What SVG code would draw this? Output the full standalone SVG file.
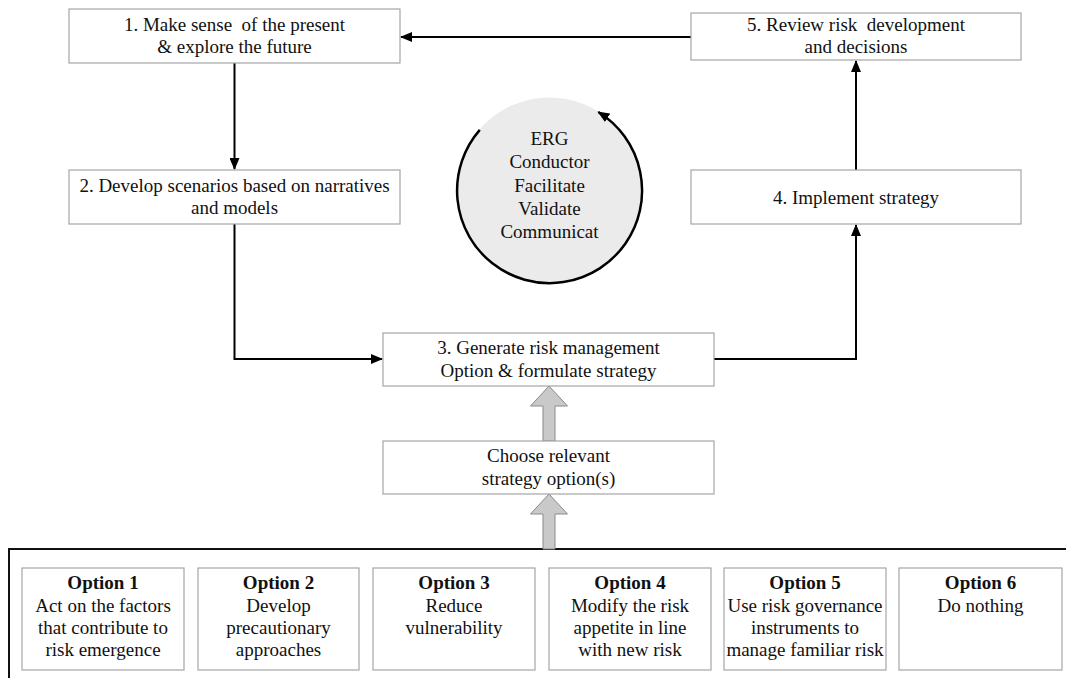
<svg xmlns="http://www.w3.org/2000/svg" width="1066" height="678" viewBox="0 0 1066 678">
<defs>
<style>
.box{fill:#fff;stroke:#a6a6a6;stroke-width:1.2}
.t{font-family:"Liberation Serif","Times New Roman",serif;font-size:19px;fill:#111;text-anchor:middle}
.b{font-weight:bold}
.con{fill:none;stroke:#000;stroke-width:2;marker-end:url(#ah)}
.blk{fill:#c9c9c9;stroke:#8a8a8a;stroke-width:1}
</style>
<marker id="ah" viewBox="0 0 12 10" refX="11" refY="5" markerWidth="12" markerHeight="10" markerUnits="userSpaceOnUse" orient="auto">
<path d="M0,0 L12,5 L0,10 Z" fill="#000"/>
</marker>
</defs>
<rect width="1066" height="678" fill="#fff"/>

<g id="container">
<rect x="9" y="549" width="1080" height="150" fill="none" stroke="#111" stroke-width="2"/>
</g>

<g id="connectors">
<path class="con" d="M691,37 H401"/>
<path class="con" d="M234.5,63 V169"/>
<path class="con" d="M234.5,224 V359 H382"/>
<path class="con" d="M714,359 H856 V225"/>
<path class="con" d="M856,170 V61"/>
<path class="blk" d="M549,386 L567.5,406 L555,406 L555,441 L543,441 L543,406 L530.5,406 Z"/>
<path class="blk" d="M549,494 L567.5,514 L555,514 L555,549 L543,549 L543,514 L530.5,514 Z"/>
</g>

<g id="n1">
<rect class="box" x="69" y="9" width="331" height="54"/>
<text class="t" x="234.5" y="31" xml:space="preserve">1. Make sense  of the present</text>
<text class="t" x="234.5" y="53">&amp; explore the future</text>
</g>
<g id="n5">
<rect class="box" x="691" y="13" width="330" height="47"/>
<text class="t" x="856" y="31" xml:space="preserve">5. Review risk  development</text>
<text class="t" x="856" y="53">and decisions</text>
</g>
<g id="n2">
<rect class="box" x="69" y="170" width="331" height="54"/>
<text class="t" x="234.5" y="192">2. Develop scenarios based on narratives</text>
<text class="t" x="234.5" y="214">and models</text>
</g>
<g id="n4">
<rect class="box" x="691" y="170" width="330" height="54"/>
<text class="t" x="856" y="204">4. Implement strategy</text>
</g>
<g id="erg">
<circle cx="549.5" cy="190" r="92.5" fill="#ebebeb"/>
<path d="M479.8,129.9 A92.5,92.5 0 1 0 598.3,112" fill="none" stroke="#000" stroke-width="2.5" marker-end="url(#ah)"/>
<text class="t" x="549.5" y="145">ERG</text>
<text class="t" x="549.5" y="168">Conductor</text>
<text class="t" x="549.5" y="192">Facilitate</text>
<text class="t" x="549.5" y="215">Validate</text>
<text class="t" x="549.5" y="238">Communicat</text>
</g>
<g id="n3">
<rect class="box" x="383" y="333" width="331" height="53"/>
<text class="t" x="548.5" y="354">3. Generate risk management</text>
<text class="t" x="548.5" y="377">Option &amp; formulate strategy</text>
</g>
<g id="choose">
<rect class="box" x="383" y="441" width="331" height="53"/>
<text class="t" x="548.5" y="462">Choose relevant</text>
<text class="t" x="548.5" y="485">strategy option(s)</text>
</g>

<g id="opt1">
<rect class="box" x="22" y="568" width="162" height="102"/>
<text class="t b" x="103" y="589">Option 1</text>
<text class="t" x="103" y="612">Act on the factors</text>
<text class="t" x="103" y="634">that contribute to</text>
<text class="t" x="103" y="656">risk emergence</text>
</g>
<g id="opt2">
<rect class="box" x="198" y="568" width="161" height="102"/>
<text class="t b" x="278.5" y="589">Option 2</text>
<text class="t" x="278.5" y="612">Develop</text>
<text class="t" x="278.5" y="634">precautionary</text>
<text class="t" x="278.5" y="656">approaches</text>
</g>
<g id="opt3">
<rect class="box" x="373" y="568" width="162" height="102"/>
<text class="t b" x="454" y="589">Option 3</text>
<text class="t" x="454" y="612">Reduce</text>
<text class="t" x="454" y="634">vulnerability</text>
</g>
<g id="opt4">
<rect class="box" x="549" y="568" width="162" height="102"/>
<text class="t b" x="630" y="589">Option 4</text>
<text class="t" x="630" y="612">Modify the risk</text>
<text class="t" x="630" y="634">appetite in line</text>
<text class="t" x="630" y="656">with new risk</text>
</g>
<g id="opt5">
<rect class="box" x="724" y="568" width="162" height="102"/>
<text class="t b" x="805" y="589">Option 5</text>
<text class="t" x="805" y="612">Use risk governance</text>
<text class="t" x="805" y="634">instruments to</text>
<text class="t" x="805" y="656">manage familiar risk</text>
</g>
<g id="opt6">
<rect class="box" x="899" y="568" width="163" height="102"/>
<text class="t b" x="980.5" y="589">Option 6</text>
<text class="t" x="980.5" y="612">Do nothing</text>
</g>
</svg>
